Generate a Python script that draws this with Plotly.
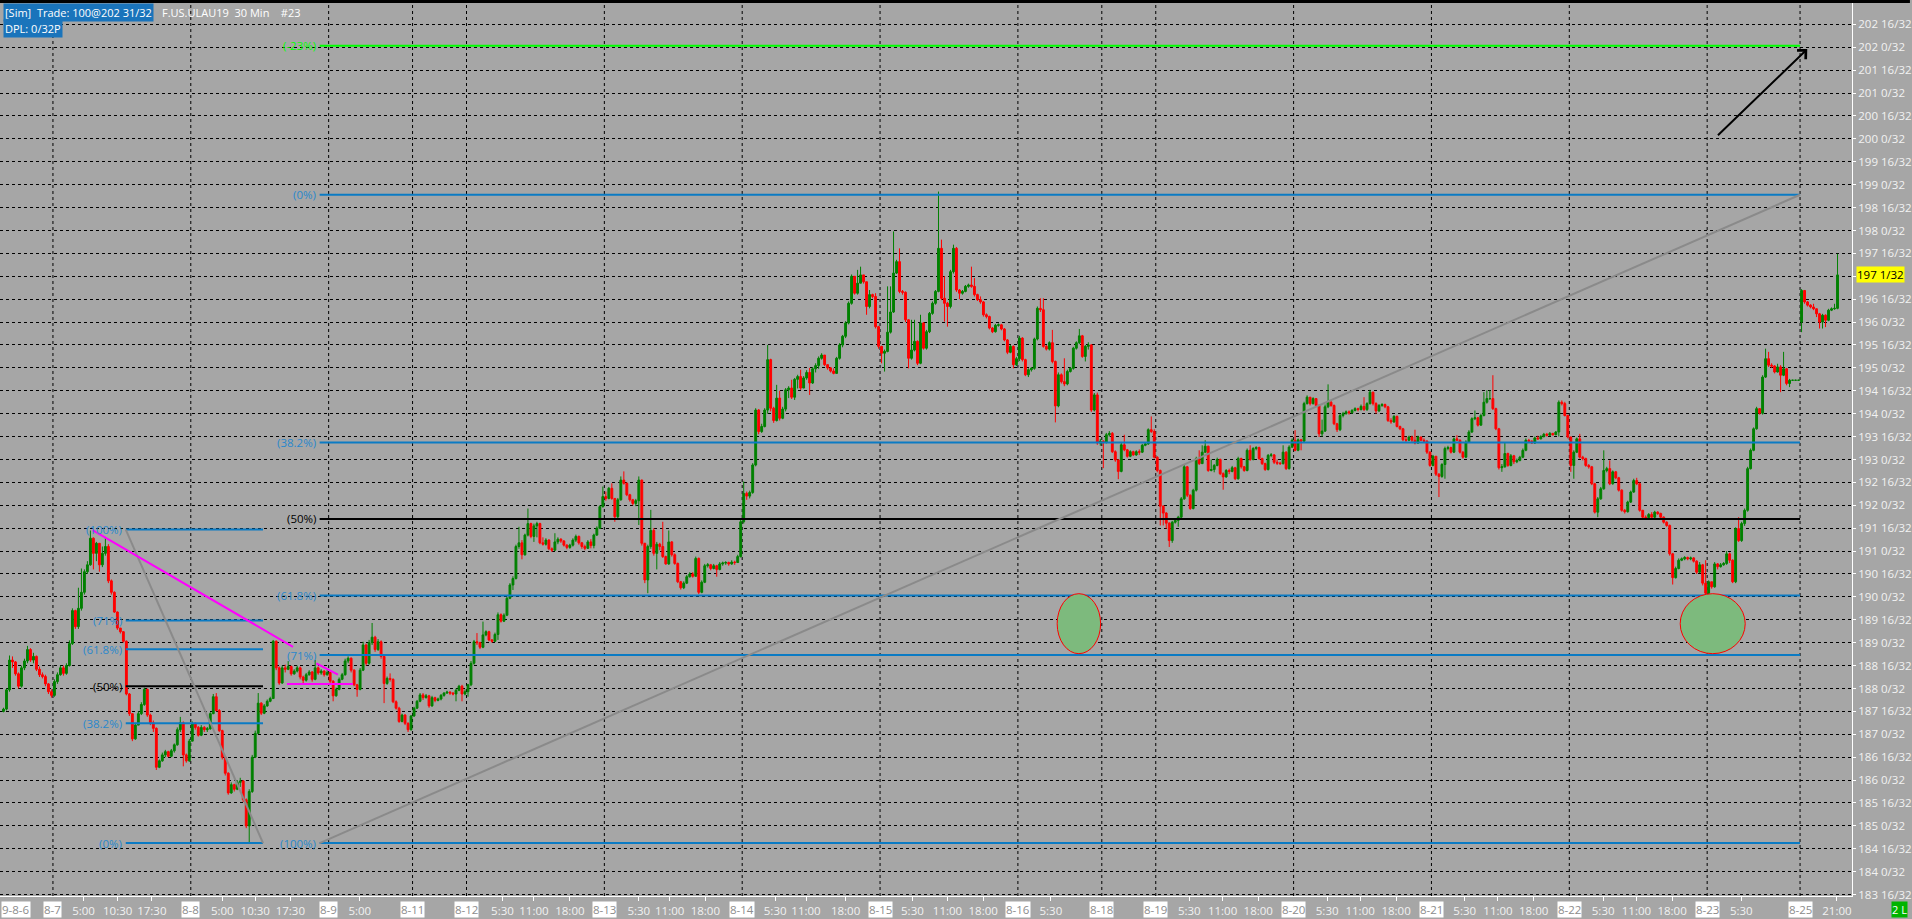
import plotly.graph_objects as go

# ---------------- DATA ----------------
first_bar = 1
first_open = 187.50
gap_opens = {601: 196.00}

close = [
    # 8-6 (partial)
    187.55,187.97,188.62,188.58,188.32,188.05,188.45,188.6,188.85,188.62,
    188.7,188.42,188.3,188.26,188.1,187.93,187.85,
    # 8-7
    188.15,188.3,188.45,188.33,188.5,188.98,189.7,189.35,189.75,190.1,
    190.55,190.7,191.28,190.95,191.17,190.7,190.95,191.1,190.35,190.1,
    189.67,189.32,189.24,189.03,187.88,187.45,186.9,187.2,187.45,187.65,
    187.98,187.42,187.25,187.13,186.28,186.42,186.55,186.62,186.52,186.64,
    186.77,187.1,187.25,186.55,186.42,186.85,
    # 8-8
    187.24,187.15,186.98,187.15,187.1,187.12,187.45,187.82,187.52,187.08,
    186.5,186.15,185.72,185.9,185.8,185.95,185.98,185.57,185.0,185.75,
    186.5,187.02,187.68,187.46,187.62,187.72,187.78,189.03,188.45,188.12,
    188.45,188.42,188.48,188.32,188.38,188.45,188.25,188.18,188.3,188.36,
    188.2,188.45,188.34,188.38,188.3,188.35,
    # 8-9
    188.16,187.84,187.98,188.2,188.3,188.6,188.66,188.4,188.08,187.98,
    188.4,188.95,188.55,189.0,189.12,188.85,189.02,188.7,188.11,188.22,
    188.2,187.71,187.57,187.28,187.42,187.24,187.1,187.4,
    # 8-11
    187.57,187.72,187.86,187.8,187.84,187.62,187.8,187.74,187.77,187.85,
    187.9,187.92,187.9,187.88,187.96,188.05,187.88,187.93,
    # 8-12
    188.08,188.55,189.02,189.0,188.9,189.17,189.24,189.06,189.03,189.18,
    189.61,189.47,189.6,189.97,190.26,190.4,191.1,191.18,190.92,191.35,
    191.6,191.32,191.55,191.6,191.18,191.15,191.24,191.05,191.02,191.2,
    191.26,191.22,191.13,191.08,191.13,191.24,191.32,191.18,191.1,191.06,
    191.2,191.12,191.35,191.5,191.97,192.19,
    # 8-13
    192.15,192.37,192.15,191.75,192.12,192.55,192.48,192.23,192.12,192.04,
    192.1,192.55,191.17,190.37,191.1,191.45,190.95,191.15,191.1,190.88,
    190.72,191.2,190.92,190.73,190.33,190.2,190.3,190.44,190.5,190.45,
    190.84,190.1,190.32,190.68,190.7,190.62,190.68,190.6,190.72,190.74,
    190.75,190.72,190.76,190.75,190.88,191.64,
    # 8-14
    192.26,192.2,192.28,192.88,194.08,193.61,193.72,194.08,195.18,194.12,
    193.85,194.34,193.9,194.1,194.52,194.56,194.36,194.75,194.81,194.56,
    194.78,194.9,194.67,194.98,195.05,195.21,195.28,195.07,195.0,194.93,
    194.88,195.21,195.5,195.69,195.98,196.41,197.0,196.63,196.85,197.03,
    196.88,196.34,196.6,196.56,195.9,195.47,
    # 8-15
    195.32,195.36,195.78,196.22,197.07,197.32,196.67,196.65,196.05,195.21,
    195.39,195.58,195.1,195.98,195.43,195.79,196.19,196.41,196.67,197.61,
    196.52,196.41,196.34,197.1,197.61,196.7,196.63,196.67,196.78,196.81,
    196.78,196.6,196.49,196.44,196.16,196.12,195.87,195.79,195.93,195.94,
    195.85,195.61,195.34,195.47,195.07,195.2,
    # 8-16
    195.65,195.18,194.85,194.96,194.99,195.63,196.3,196.27,195.47,195.41,
    195.55,195.14,194.17,194.85,194.7,194.65,194.92,194.99,195.43,195.55,
    195.7,195.25,195.47,195.5,194.08,194.41,193.36,193.4,
    # 8-18
    193.38,193.54,193.57,193.17,192.99,192.74,193.32,193.21,193.07,193.17,
    193.1,193.17,193.16,193.31,193.34,193.65,193.61,193.05,
    # 8-19
    192.76,191.98,191.83,191.61,191.23,191.63,191.67,191.74,192.14,192.84,
    192.22,191.93,192.33,193.02,192.91,193.16,193.29,192.76,192.78,192.87,
    193.0,192.69,192.62,192.76,192.74,192.82,192.58,193.02,192.84,192.76,
    193.2,193.0,193.24,193.26,193.02,192.91,192.78,193.09,193.1,192.94,
    192.92,192.91,193.16,192.8,193.27,193.42,
    # 8-20
    193.2,193.43,193.4,194.22,194.36,194.22,194.33,194.18,193.56,193.62,
    194.15,194.25,194.18,193.78,193.65,193.96,194.0,194.04,194.02,194.07,
    194.11,194.09,194.16,194.09,194.22,194.47,194.22,194.06,194.18,194.2,
    194.15,193.85,193.82,193.94,193.72,193.67,193.43,193.42,193.49,193.42,
    193.36,193.49,193.42,193.4,193.16,192.87,
    # 8-21
    193.07,192.68,192.63,192.89,193.24,193.26,193.16,193.45,193.42,193.16,
    193.05,193.38,193.6,193.89,193.91,193.75,193.96,194.25,194.33,194.33,
    194.11,193.67,192.82,192.84,193.13,192.87,193.08,192.95,192.98,193.05,
    193.2,193.42,193.4,193.36,193.47,193.45,193.5,193.55,193.53,193.57,
    193.54,193.6,194.25,194.22,193.96,193.49,
    # 8-22
    192.87,193.16,193.45,193.05,193.02,192.87,192.84,192.47,191.85,192.14,
    192.36,192.76,192.8,192.47,192.73,192.6,192.33,191.89,191.86,192.07,
    192.29,192.54,192.47,191.89,191.74,191.73,191.8,191.74,191.85,191.82,
    191.74,191.63,191.56,190.94,190.42,190.62,190.8,190.83,190.86,190.83,
    190.85,190.78,190.54,190.7,190.3,190.08,
    # 8-23
    190.33,190.22,190.72,190.66,190.7,190.73,190.94,190.8,190.33,191.49,
    191.23,191.6,191.89,192.8,193.2,193.67,194.11,194.01,194.8,195.2,
    195.06,195.04,194.91,195.02,194.84,194.98,194.66,194.73,194.73,194.73,
    194.73,
    # 8-25
    196.69,196.44,196.37,196.33,196.29,196.18,196.0,196.15,196.04,196.26,
    196.29,196.3,197.03,
]

high = [
    187.58,188.0,188.72,188.7,188.6,188.35,188.5,188.65,188.93,188.88,
    188.78,188.72,188.48,188.35,188.3,188.12,187.98,
    188.2,188.35,188.5,188.5,188.55,189.05,189.75,189.72,190.2,190.62,
    190.6,190.78,191.45,191.3,191.2,191.15,191.1,191.3,191.15,190.38,
    190.12,189.68,189.3,189.25,189.05,187.9,187.46,187.25,187.5,187.7,
    188.02,188.0,187.45,187.3,187.15,186.45,186.6,186.66,186.64,186.68,
    186.8,187.15,187.38,187.28,186.58,186.9,
    187.28,187.26,187.18,187.2,187.18,187.16,187.48,187.88,187.9,187.55,
    187.1,186.52,186.17,185.95,185.92,186.0,186.05,186.0,185.6,185.8,
    186.55,187.08,187.9,187.7,187.66,187.76,187.82,189.06,189.05,188.48,
    188.5,188.52,188.6,188.5,188.42,188.5,188.48,188.28,188.34,188.4,
    188.38,188.62,188.48,188.42,188.4,188.4,
    188.36,188.18,188.02,188.24,188.34,188.65,188.7,188.68,188.42,188.1,
    188.45,189.02,188.98,189.06,189.43,189.15,189.08,189.05,188.72,188.26,
    188.33,188.22,187.74,187.6,187.45,187.44,187.26,187.42,
    187.6,187.75,187.9,187.9,187.88,187.86,187.84,187.82,187.8,187.88,
    187.92,187.95,187.94,187.92,188.0,188.08,188.08,187.98,
    188.1,188.6,189.06,189.21,189.02,189.46,189.27,189.26,189.08,189.22,
    189.66,189.64,189.64,190.0,190.3,190.45,191.14,191.53,191.24,191.38,
    191.93,191.62,191.6,191.64,191.62,191.3,191.28,191.26,191.08,191.39,
    191.3,191.28,191.24,191.15,191.16,191.28,191.36,191.34,191.2,191.14,
    191.24,191.26,191.38,191.54,192.0,192.41,
    192.3,192.4,192.48,192.15,192.16,192.63,192.74,192.5,192.25,192.14,
    192.14,192.63,192.56,191.18,191.14,191.9,191.5,191.2,191.18,191.64,
    190.9,191.45,191.22,190.95,190.75,190.35,190.34,190.48,190.54,190.54,
    190.88,190.86,190.36,190.72,190.74,190.72,190.72,190.7,190.76,190.77,
    190.78,190.77,190.8,190.79,190.92,191.68,
    192.52,192.3,192.32,192.92,194.12,194.1,193.78,194.12,195.5,195.2,
    194.15,194.63,194.5,194.15,194.56,194.6,194.74,194.78,194.85,194.96,
    194.82,194.95,195.0,195.02,195.1,195.25,195.32,195.28,195.06,195.02,
    194.99,195.24,195.54,195.72,196.02,196.45,197.04,197.0,197.14,197.21,
    197.02,196.88,196.7,196.62,196.63,195.92,
    195.48,195.4,196.78,196.78,197.98,197.36,197.61,196.7,196.67,196.06,
    196.05,196.05,195.6,196.16,196.0,195.83,196.22,196.45,196.7,198.85,
    197.8,197.0,196.44,197.14,197.69,197.64,196.72,196.7,196.81,196.84,
    197.21,196.96,196.62,196.56,196.46,196.19,196.14,195.89,195.96,195.97,
    195.96,195.87,195.63,195.5,195.49,195.24,
    195.7,195.67,195.2,194.99,195.02,195.66,196.34,196.52,196.52,195.5,
    195.58,195.83,195.16,194.9,194.88,195.21,194.96,195.02,195.46,195.58,
    195.85,195.72,195.5,195.56,195.52,194.45,194.46,193.45,
    193.42,193.58,193.62,193.6,193.2,193.0,193.36,193.54,193.23,193.2,
    193.19,193.2,193.22,193.34,193.37,193.68,193.94,193.66,
    193.07,192.78,192.0,191.85,191.63,191.66,191.7,191.77,192.18,192.88,
    192.86,192.24,192.36,193.06,193.2,193.31,193.42,193.3,193.0,192.9,
    193.04,193.02,192.72,192.79,192.8,192.86,192.84,193.06,193.04,192.86,
    193.24,193.31,193.27,193.29,193.28,193.04,192.93,193.12,193.14,193.12,
    193.0,192.95,193.31,193.18,193.31,193.46,
    193.64,193.46,193.45,194.26,194.4,194.36,194.36,194.34,194.2,193.87,
    194.2,194.64,194.28,194.2,193.8,194.0,194.04,194.07,194.07,194.1,
    194.14,194.13,194.2,194.36,194.25,194.52,194.48,194.25,194.21,194.23,
    194.22,194.17,193.9,193.97,193.96,193.74,193.69,193.5,193.52,193.52,
    193.65,193.52,193.5,193.46,193.42,193.18,
    193.1,193.07,192.7,192.92,193.28,193.3,193.28,193.48,193.53,193.44,
    193.18,193.42,193.64,193.92,194.07,193.93,194.0,194.47,194.51,194.51,
    194.84,194.13,193.69,192.9,193.38,193.15,193.12,193.1,193.02,193.08,
    193.24,193.46,193.45,193.42,193.5,193.52,193.53,193.58,193.58,193.6,
    193.58,193.62,194.29,194.29,194.26,193.98,
    193.5,193.2,193.48,193.56,193.08,193.04,192.9,192.86,192.49,192.18,
    192.4,193.2,192.84,192.98,192.76,192.75,192.62,192.35,191.92,192.1,
    192.32,192.58,192.6,192.5,191.9,191.78,191.83,191.85,191.88,191.87,
    191.84,191.76,191.65,191.58,190.96,190.66,190.84,190.86,190.89,190.88,
    190.88,190.87,190.8,190.76,190.72,190.8,
    190.36,190.33,190.76,190.74,190.74,190.76,191.0,190.97,190.82,191.52,
    191.74,191.64,191.93,192.84,193.24,193.7,194.15,194.12,194.84,195.42,
    195.35,195.1,195.06,195.09,195.06,195.35,195.0,194.76,194.74,194.74,
    194.74,
    196.72,196.66,196.46,196.39,196.4,196.3,196.2,196.18,196.17,196.29,
    196.32,196.4,197.49,
]

low = [
    187.48,187.52,187.93,188.45,188.28,188.0,188.02,188.4,188.55,188.58,
    188.55,188.38,188.25,188.22,188.05,187.88,187.8,
    187.82,188.1,188.28,188.28,188.3,188.48,188.95,189.3,189.3,189.7,
    190.05,190.5,190.68,190.6,190.78,190.55,190.65,190.9,190.3,190.05,
    189.65,189.28,189.2,189.0,187.85,187.4,186.85,186.88,187.2,187.42,
    187.62,187.38,187.2,187.05,186.22,186.26,186.4,186.5,186.5,186.5,
    186.6,186.75,187.05,186.3,186.38,186.4,
    186.85,187.1,186.95,186.96,187.05,187.05,187.1,187.44,187.5,187.05,
    186.45,186.1,185.68,185.7,185.75,185.78,185.85,185.52,184.95,184.62,
    185.72,186.48,187.0,187.42,187.44,187.6,187.7,187.78,188.4,188.08,
    188.1,188.35,188.4,188.28,188.3,188.35,188.2,188.12,188.15,188.28,
    188.15,188.18,188.3,188.3,188.26,188.28,
    188.12,187.72,187.82,187.96,188.18,188.28,188.55,188.35,188.05,187.82,
    187.96,188.38,188.5,188.52,188.95,188.8,188.82,188.65,187.68,188.08,
    188.15,187.68,187.54,187.25,187.26,187.2,187.05,187.08,
    187.38,187.55,187.7,187.75,187.78,187.58,187.6,187.7,187.72,187.74,
    187.82,187.88,187.86,187.85,187.72,187.94,187.72,187.85,
    187.82,188.05,188.52,188.95,188.86,188.88,189.14,189.03,189.0,189.02,
    189.06,189.44,189.45,189.58,189.95,190.15,190.38,191.05,190.82,190.9,
    191.32,191.28,191.2,191.3,191.15,191.12,191.12,191.02,190.98,191.0,
    191.15,191.18,191.1,191.04,191.05,191.1,191.2,191.14,191.05,191.02,
    191.05,191.06,191.06,191.33,191.48,191.95,
    192.1,192.13,192.12,191.64,191.72,192.1,192.45,192.2,192.08,192.0,
    191.98,191.57,191.12,190.3,190.08,191.05,190.9,190.6,191.02,190.85,
    190.7,190.7,190.88,190.7,190.3,190.16,190.17,190.28,190.42,190.42,
    190.44,190.06,190.08,190.3,190.64,190.58,190.6,190.44,190.58,190.68,
    190.7,190.68,190.7,190.7,190.74,190.86,
    191.6,192.12,192.15,192.25,192.85,193.55,193.58,193.7,194.0,194.05,
    193.8,193.83,193.85,193.88,194.05,194.34,194.32,194.3,194.55,194.52,
    194.65,194.74,194.41,194.65,194.9,194.98,195.18,195.04,194.96,194.9,
    194.86,194.88,195.18,195.45,195.65,195.95,196.38,196.6,196.6,196.95,
    196.84,196.16,196.3,196.52,195.86,195.42,
    195.1,194.92,195.34,195.75,196.2,197.05,196.63,196.6,196.0,194.99,
    195.18,195.36,195.06,195.08,195.4,195.4,195.76,196.16,196.38,196.65,
    196.48,196.01,195.9,196.3,197.06,196.66,196.5,196.6,196.65,196.75,
    196.75,196.56,196.46,196.4,196.12,196.08,195.84,195.76,195.77,195.9,
    195.82,195.58,195.3,195.32,194.99,195.04,
    195.15,195.14,194.82,194.8,194.92,194.96,195.6,196.22,195.44,195.38,
    195.38,195.1,193.81,194.14,194.66,194.6,194.62,194.9,194.96,195.4,
    195.52,195.22,195.14,195.4,194.04,194.05,193.32,193.3,
    192.81,193.35,193.5,193.14,192.95,192.57,192.72,193.18,193.04,193.05,
    193.08,193.08,193.1,193.14,193.29,193.32,193.58,193.02,
    192.72,191.56,191.56,191.49,191.09,191.18,191.6,191.53,191.72,192.12,
    192.18,191.9,191.91,192.3,192.88,192.9,193.14,192.73,192.74,192.72,
    192.85,192.66,192.34,192.6,192.68,192.72,192.55,192.56,192.8,192.73,
    192.74,192.97,192.98,193.2,192.99,192.88,192.75,192.76,193.05,192.9,
    192.88,192.88,192.89,192.77,192.78,193.25,
    193.18,193.18,193.2,193.38,194.2,194.18,194.2,194.15,193.49,193.5,
    193.6,194.12,194.15,193.75,193.6,193.62,193.92,193.98,193.98,194.0,
    194.05,194.05,194.07,194.06,194.06,194.2,194.18,194.0,194.04,194.15,
    194.12,193.82,193.78,193.8,193.7,193.64,193.4,193.38,193.4,193.38,
    193.33,193.34,193.4,193.36,193.12,192.84,
    192.85,192.64,192.18,192.6,192.58,193.2,193.13,193.14,193.4,193.13,
    193.02,193.03,193.36,193.58,193.86,193.72,193.74,193.94,194.22,194.3,
    194.08,193.64,192.78,192.73,192.82,192.84,192.85,192.9,192.92,192.96,
    193.03,193.18,193.36,193.34,193.34,193.43,193.44,193.48,193.5,193.52,
    193.52,193.53,193.5,194.18,193.94,193.46,
    192.73,192.58,193.14,193.02,192.98,192.84,192.8,192.44,191.82,191.74,
    192.12,192.34,192.72,192.44,192.45,192.57,192.3,191.86,191.82,191.84,
    192.05,192.27,192.44,191.86,191.71,191.7,191.71,191.71,191.72,191.79,
    191.71,191.6,191.53,190.9,190.27,190.4,190.6,190.78,190.8,190.8,
    190.8,190.75,190.5,190.52,190.25,190.06,
    190.0,190.18,190.2,190.6,190.64,190.68,190.7,190.74,190.3,190.3,
    191.2,191.2,191.55,191.86,192.78,193.18,193.65,193.98,193.98,194.78,
    195.02,195.0,194.88,194.9,194.47,194.82,194.62,194.58,194.72,194.72,
    194.72,
    195.78,196.4,196.34,196.3,196.26,196.11,195.86,195.86,195.89,196.02,
    196.24,196.27,196.28,
]

day_first_bar = [18, 64, 110, 138, 156, 202, 248, 294, 340, 368, 386, 432, 478, 524, 570, 601]
day_labels = ["8-7", "8-8", "8-9", "8-11", "8-12", "8-13", "8-14", "8-15", "8-16",
              "8-18", "8-19", "8-20", "8-21", "8-22", "8-23", "8-25"]
first_day_label = "9-8-6"

time_tick_bars = [27.7, 39.1, 50.5, 74, 85, 96.7, 119.9, 167.5, 178, 190,
                  213, 223.3, 235.2, 258.5, 268.8, 282, 304.3, 316, 327.9, 350.5,
                  396.7, 407.8, 419.7, 442.7, 453.7, 465.7, 488.6, 499.7, 511.6, 534.8,
                  545.9, 557.8, 580.9, 612.8]
time_tick_text = ["5:00", "10:30", "17:30", "5:00", "10:30", "17:30", "5:00", "5:30", "11:00", "18:00",
                  "5:30", "11:00", "18:00", "5:30", "11:00", "18:00", "5:30", "11:00", "18:00", "5:30",
                  "5:30", "11:00", "18:00", "5:30", "11:00", "18:00", "5:30", "11:00", "18:00", "5:30",
                  "11:00", "18:00", "5:30", "21:00"]

# price scale (32nds)
price_ticks = [183.5 + 0.5 * k for k in range(39)]

# Fibonacci drawings
fib_left_bars = [41.8, 87.6]          # 100% anchor bar, 0% anchor bar
fib_left_prices = [191.47, 184.625]   # 100% price, 0% price
fib_left_levels = [1.0, 0.71, 0.618, 0.5, 0.382, 0.0]
fib_left_labels = ["(100%)", "(71%)", "(61.8%)", "(50%)", "(38.2%)", "(0%)"]

fib_right_bars = [106.5, 600.5]        # 100% anchor bar, 0% anchor bar
fib_right_prices = [184.625, 198.78]   # 100% price, 0% price
fib_right_levels = [-0.23, 0.0, 0.382, 0.5, 0.618, 0.71, 1.0]
fib_right_labels = ["(-23%)", "(0%)", "(38.2%)", "(50%)", "(61.8%)", "(71%)", "(100%)"]

# magenta trend lines
mag_x0 = [30.7, 105.4, 95.6]
mag_y0 = [191.46, 188.55, 188.10]
mag_x1 = [97.6, 112.6, 117.6]
mag_y1 = [188.91, 188.30, 188.10]

# marked zones (ellipses)
zone_x0 = [352.6, 560.5]
zone_x1 = [367.1, 582.2]
zone_y0 = [188.76, 188.76]
zone_y1 = [190.07, 190.07]

# black arrow
arrow_tail = [572.6, 200.05]
arrow_head = [602.9, 201.96]

last_price = 197.03
last_price_text = "197 1/32"
header_line1 = "[Sim]\u00a0\u00a0Trade: 100@202 31/32"
header_line1b = "F.US.ULAU19\u00a0\u00a030 Min\u00a0\u00a0\u00a0\u00a0#23"
header_line2 = "DPL: 0/32P"

# ---------------- FIGURE ----------------
W, H = 1912, 919
ML, MR, MT, MB = 0, 58, 3, 23
PW, PH = W - ML - MR, H - MT - MB
BG = "#a6a6a6"
BLUE = "#0b7bc4"
BLUE_TXT = "#2a88cc"
FONT = "Open Sans, Noto Sans, sans-serif"

bars = list(range(first_bar, first_bar + len(close)))
opens = [first_open] + close[:-1]
for b, o in gap_opens.items():
    opens[b - first_bar] = o

fig = go.Figure()
fig.add_trace(go.Candlestick(
    x=bars, open=opens, high=high, low=low, close=close,
    increasing=dict(line=dict(color="#008000", width=1), fillcolor="#008000"),
    decreasing=dict(line=dict(color="#ff0000", width=1), fillcolor="#ff0000"),
    whiskerwidth=0, showlegend=False, hoverinfo="skip",
))

shapes = []
annotations = []

# vertical day separators
for fb in day_first_bar:
    shapes.append(dict(type="line", xref="x", yref="paper", x0=fb - 0.5, x1=fb - 0.5, y0=0, y1=1,
                       line=dict(color="black", width=1, dash="3px,3px"), layer="below"))

def fib_shapes(bars_, prices_, levels, labels):
    p100, p0 = prices_
    for lv, lab in zip(levels, labels):
        p = p0 + lv * (p100 - p0)
        if abs(lv - 0.5) < 1e-9:
            col, tcol = "black", "black"
        elif lv < 0:
            col, tcol = "#00ff00", "#00ff00"
        else:
            col, tcol = BLUE, BLUE_TXT
        shapes.append(dict(type="line", xref="x", yref="y", x0=bars_[0], x1=bars_[1], y0=p, y1=p,
                           line=dict(color=col, width=2)))
        annotations.append(dict(x=bars_[0], y=p, xref="x", yref="y", text=lab, showarrow=False,
                                xanchor="right", yanchor="middle", xshift=-2,
                                font=dict(family=FONT, size=11.5, color=tcol)))
    shapes.append(dict(type="line", xref="x", yref="y", x0=bars_[0], x1=bars_[1],
                       y0=p100, y1=p0, line=dict(color="#8a8a8a", width=2)))

fib_shapes(fib_left_bars, fib_left_prices, fib_left_levels, fib_left_labels)
fib_shapes(fib_right_bars, fib_right_prices, fib_right_levels, fib_right_labels)

for a, b_, c, d in zip(mag_x0, mag_y0, mag_x1, mag_y1):
    shapes.append(dict(type="line", xref="x", yref="y", x0=a, y0=b_, x1=c, y1=d,
                       line=dict(color="#ff00ff", width=2)))

for a, b_, c, d in zip(zone_x0, zone_y0, zone_x1, zone_y1):
    shapes.append(dict(type="circle", xref="x", yref="y", x0=a, y0=b_, x1=c, y1=d,
                       fillcolor="#7dba7d", line=dict(color="#ff0000", width=1)))

# top black border
shapes.append(dict(type="rect", xref="paper", yref="paper", x0=0, x1=W / PW, y0=1, y1=1 + MT / PH,
                   fillcolor="black", line=dict(width=0)))

# arrow
annotations.append(dict(x=arrow_head[0], y=arrow_head[1], ax=arrow_tail[0], ay=arrow_tail[1],
                        xref="x", yref="y", axref="x", ayref="y", text="", showarrow=True,
                        arrowhead=4, arrowsize=1.2, arrowwidth=2, arrowcolor="black"))

# date labels on time axis
for fb, lab in zip(day_first_bar, day_labels):
    annotations.append(dict(x=fb - 0.5, y=0, xref="x", yref="paper", text=lab, showarrow=False,
                            xanchor="center", yanchor="top", yshift=-5, bgcolor="white",
                            borderpad=0, font=dict(family=FONT, size=11.5, color="#8c8c8c")))
annotations.append(dict(x=1 / PW, y=0, xref="paper", yref="paper", text=first_day_label,
                        showarrow=False, xanchor="left", yanchor="top", yshift=-5, bgcolor="white",
                        borderpad=0, font=dict(family=FONT, size=11.5, color="#8c8c8c")))

# last price tag
annotations.append(dict(x=1, y=last_price, xref="paper", yref="y", text=last_price_text,
                        showarrow=False, xanchor="left", yanchor="middle", xshift=4,
                        bgcolor="#ffff00", borderpad=0,
                        font=dict(family=FONT, size=11.5, color="black")))
# bottom-right status box
annotations.append(dict(x=1893 / PW, y=0, xref="paper", yref="paper", text="2 L",
                        showarrow=False, xanchor="left", yanchor="top", yshift=-5,
                        bgcolor="#00b400", borderpad=0,
                        font=dict(family=FONT, size=11, color="white")))

# header
annotations.append(dict(x=3 / PW, y=1, xref="paper", yref="paper", text=header_line1,
                        showarrow=False, xanchor="left", yanchor="top", bgcolor="#1a74bb",
                        borderpad=1, font=dict(family=FONT, size=11, color="white")))
annotations.append(dict(x=160 / PW, y=1, xref="paper", yref="paper", text=header_line1b,
                        showarrow=False, xanchor="left", yanchor="top",
                        borderpad=1, font=dict(family=FONT, size=11, color="white")))
annotations.append(dict(x=3 / PW, y=1 - 16 / PH, xref="paper", yref="paper", text=header_line2,
                        showarrow=False, xanchor="left", yanchor="top", bgcolor="#1a74bb",
                        borderpad=1, font=dict(family=FONT, size=11, color="white")))

def frac32(v):
    whole = int(v)
    t = int(round((v - whole) * 32))
    return f"{whole} {t}/32"

ytext = [("" if abs(v - round(last_price)) < 1e-9 and abs(last_price - v) < 0.25 else frac32(v))
         for v in price_ticks]

y_top = 202.967
y_bot = 183.469
x_lo = (0 - 0.5) / 3
x_hi = (PW - 0.5) / 3

fig.update_layout(
    width=W, height=H,
    margin=dict(l=ML, r=MR, t=MT, b=MB, pad=0),
    paper_bgcolor=BG, plot_bgcolor=BG,
    font=dict(family=FONT, size=11.5, color="#f2f2f2"),
    showlegend=False, boxgap=0.12,
    shapes=shapes, annotations=annotations,
    xaxis=dict(range=[x_lo, x_hi], rangeslider=dict(visible=False), showgrid=False,
               zeroline=False, showline=True, linecolor="white", linewidth=1,
               tickmode="array", tickvals=time_tick_bars, ticktext=time_tick_text,
               ticks="outside", ticklen=4, tickcolor="white",
               tickfont=dict(family=FONT, size=11.5, color="#f2f2f2"), fixedrange=True),
    yaxis=dict(range=[y_bot, y_top], side="right", showgrid=True, gridcolor="black",
               griddash="3px,3px", gridwidth=1, zeroline=False, showline=True,
               linecolor="white", linewidth=1, tickmode="array", tickvals=price_ticks,
               ticktext=ytext, ticks="outside", ticklen=3, tickcolor="white",
               tickfont=dict(family=FONT, size=11.5, color="#f2f2f2"), fixedrange=True),
)

fig.write_html("out.html", config={"displayModeBar": False},
               post_script="document.body.style.margin='0';document.body.style.overflow='hidden';")
